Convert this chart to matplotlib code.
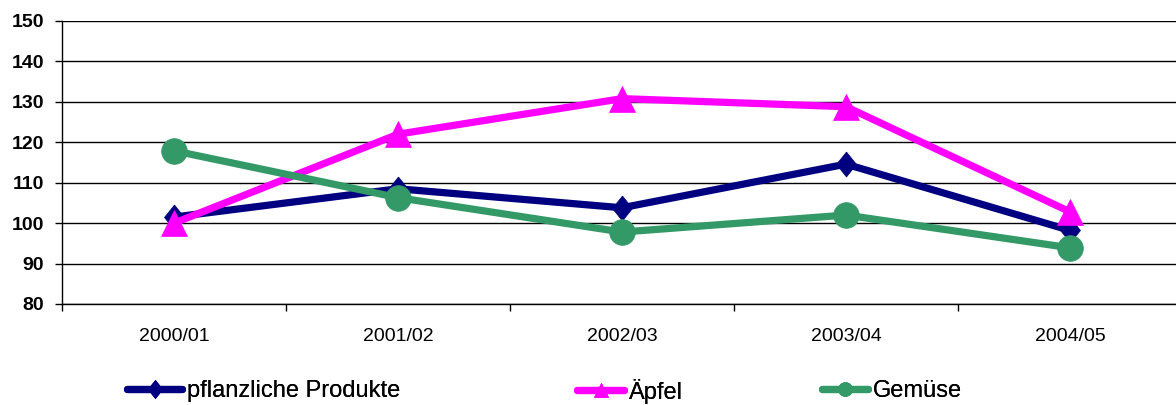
import matplotlib.pyplot as plt
from matplotlib.lines import Line2D

# Data
years = ["2000/01", "2001/02", "2002/03", "2003/04", "2004/05"]
pflanzlich = [101.5, 108.5, 103.8, 114.6, 98.2]
aepfel = [100.0, 122.0, 130.8, 128.8, 102.8]
gemuese = [117.9, 106.3, 97.8, 102.0, 93.9]

labels = ["pflanzliche Produkte", "Äpfel", "Gemüse"]
colors = ["#000080", "#FF00FF", "#339966"]
diamond = [(0, 1), (0.8, 0), (0, -1), (-0.8, 0), (0, 1)]
markers = [diamond, "^", "o"]
msizes = [18, 19, 18.5]
leg_sizes = [13, 10, 10]

plt.rcParams['font.family'] = ['Liberation Sans', 'DejaVu Sans']

W, H = 1176, 405
fig = plt.figure(figsize=(W / 100, H / 100), dpi=100)
left, right, top, bottom = 62, 1182, 21, 304
ax = fig.add_axes([left / W, (H - bottom) / H, (right - left) / W, (bottom - top) / H])

x = list(range(len(years)))
series = [pflanzlich, aepfel, gemuese]
for vals, lab, c, m, ms in zip(series, labels, colors, markers, msizes):
    ax.plot(x, vals, color=c, lw=5.2, marker=m, markersize=ms, label=lab,
            markeredgewidth=0.5, solid_capstyle='round', solid_joinstyle='round',
            clip_on=False)

ax.set_xlim(-0.5, 4.5)
ax.set_ylim(80, 150)
ax.set_yticks(range(80, 151, 10))
ax.set_yticklabels([str(v) for v in range(80, 151, 10)], fontsize=14, fontweight='bold')
ax.set_xticks(x)
ax.set_xticklabels(years, fontsize=14)
ax.set_xticks([i - 0.5 for i in range(len(years) + 1)], minor=True)
ax.tick_params(axis='x', which='major', length=0, pad=17)
ax.tick_params(axis='x', which='minor', length=5, width=1, direction='out')
ax.tick_params(axis='y', length=5, width=1, direction='out', pad=8)
ax.grid(axis='y', color='black', lw=1)
ax.set_axisbelow(True)
for s in ['top', 'right']:
    ax.spines[s].set_visible(False)
ax.spines['left'].set_linewidth(1)
ax.spines['bottom'].set_linewidth(1)

# legend entries placed individually, as in the reference
leg_x = [127, 577, 822]
leg_len = [2.35, 2.0, 1.95]
for lab, c, m, ms, lx, hl in zip(labels, colors, markers, leg_sizes, leg_x, leg_len):
    h = Line2D([], [], color=c, lw=5.2, marker=m, markersize=ms,
               markeredgewidth=0.5, solid_capstyle='round')
    lg = fig.legend([h], [lab], loc='center left', bbox_to_anchor=(lx / W, 1 - 391 / H),
                    frameon=False, fontsize=17, handlelength=hl, handletextpad=0.2,
                    borderpad=0, borderaxespad=0)
    fig.add_artist(lg)

fig.savefig("out.png", dpi=100)
